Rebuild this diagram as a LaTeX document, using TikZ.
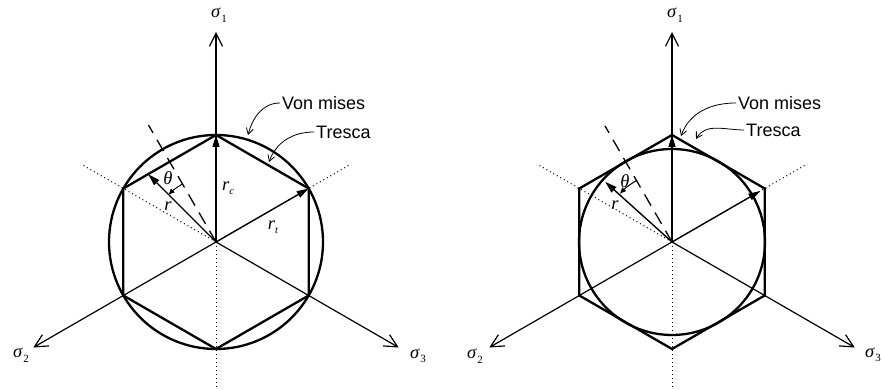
\documentclass[tikz,border=0pt]{standalone}
\usepackage{fontspec}
\setmainfont{Liberation Serif}
\newfontfamily\arialfont{Liberation Sans}
\usetikzlibrary{arrows.meta}
\newcommand\sgmlab[1]{\textit{σ}\kern0.5pt\raisebox{-4.5pt}{\fontsize{11}{11}\selectfont #1}}
\newcommand\rsub[1]{\textit{r}\raisebox{-3.5pt}{\fontsize{10.5}{10.5}\selectfont\textit{#1}}}
\begin{document}
\begin{tikzpicture}[x=1pt,y=1pt,
  axisline/.style={line width=1.2pt,-{Straight Barb[length=13pt,width=13pt,line width=1.2pt]}},
  dotline/.style={line width=1pt,dash pattern=on 1pt off 3pt},
  dashline/.style={line width=1.3pt,dash pattern=on 13pt off 8pt},
  boldline/.style={line width=2.3pt,line join=miter},
  vecline/.style={line width=1.4pt,-{Triangle[length=12pt,width=7pt]}},
  arcline/.style={line width=1pt,-{Triangle[length=6pt,width=5pt]}},
  leader/.style={line width=0.8pt,-{Straight Barb[length=6pt,width=7pt,line width=0.8pt]}},
  lab/.style={inner sep=0pt,font=\fontsize{18.5}{21}\selectfont},
  tag/.style={inner sep=2pt,anchor=west,font=\arialfont\fontsize{18}{21}\selectfont}]
\useasboundingbox (0,0) rectangle (883,390);

% ---------------- left diagram ----------------
\begin{scope}[shift={(216,148)}]
  \coordinate (LO) at (0,0);
  \foreach \a/\n in {90/1,150/2,210/3,270/4,330/5,30/6}
    \coordinate (LV\n) at (\a:107);
  \coordinate (LA1) at (90:210);
  \coordinate (LA2) at (210:211);
  \coordinate (LA3) at (330:211);
  \coordinate (LD1) at (150:156);
  \coordinate (LD2) at (30:156);
  \coordinate (LD3) at (270:145);
  \coordinate (LE) at (120:135);
  \coordinate (LR) at (135:95.9);
  \coordinate (LVMend) at (32,107);
  \coordinate (LTRend) at (53,80);
  \draw[dotline] (LO) -- (LD1);
  \draw[dotline] (LO) -- (LD2);
  \draw[dotline] (LO) -- (LD3);
  \draw[dashline] (LO) -- (LE);
  \draw[axisline] (LO) -- (LA1);
  \draw[axisline] (LO) -- (LA2);
  \draw[axisline] (LO) -- (LA3);
  \draw[boldline] (LV1) -- (LV2) -- (LV3) -- (LV4) -- (LV5) -- (LV6) -- cycle;
  \draw[boldline] (LO) circle[radius=107];
  \draw[vecline] (LO) -- (LV1);
  \draw[vecline] (LO) -- (LV6);
  \draw[vecline] (LO) -- (LR);
  \draw[arcline] (120:67) arc[start angle=120,end angle=135,radius=67];
  \node[lab] (Lth) at (-48,64) {\textit{θ}};
  \node[lab] (Lr) at (-48,36) {\textit{r}};
  \node[lab] (Lrc) at (12,54) {\rsub{c}};
  \node[lab] (Lrt) at (57,15) {\rsub{t}};
\end{scope}
\node[lab] (Ls1) at (219,375) {\sgmlab{1}};
\node[lab] (Ls2) at (21,35) {\sgmlab{2}};
\node[lab] (Ls3) at (418,34) {\sgmlab{3}};
\node[tag] (Lvm) at (280,287) {Von mises};
\node[tag] (Ltr) at (314,258) {Tresca};
\draw[leader] (Lvm.west) to[out=180,in=75] (LVMend);
\draw[leader] (Ltr.west) to[out=180,in=70] (LTRend);

% ---------------- right diagram ----------------
\begin{scope}[shift={(672,148)}]
  \coordinate (RO) at (0,0);
  \foreach \a/\n in {90/1,150/2,210/3,270/4,330/5,30/6}
    \coordinate (RV\n) at (\a:107);
  \coordinate (RA1) at (90:210);
  \coordinate (RA2) at (210:211);
  \coordinate (RA3) at (330:211);
  \coordinate (RD1) at (150:156);
  \coordinate (RD2) at (30:156);
  \coordinate (RD3) at (270:145);
  \coordinate (RE) at (120:134);
  \coordinate (RR) at (138:90);
  \coordinate (RT) at (30:102);
  \coordinate (RVMend) at (9,106);
  \coordinate (RTRend) at (24,103);
  \draw[dotline] (RO) -- (RD1);
  \draw[dotline] (RO) -- (RD2);
  \draw[dotline] (RO) -- (RD3);
  \draw[dashline] (RO) -- (RE);
  \draw[axisline] (RO) -- (RA1);
  \draw[axisline] (RO) -- (RA2);
  \draw[axisline] (RO) -- (RA3);
  \draw[boldline] (RV1) -- (RV2) -- (RV3) -- (RV4) -- (RV5) -- (RV6) -- cycle;
  \draw[boldline] (RO) circle[radius=93];
  \draw[vecline] (RO) -- (RV1);
  \draw[vecline] (RO) -- (RT);
  \draw[vecline] (RO) -- (RR);
  \draw[arcline] (120:71) arc[start angle=120,end angle=137,radius=71];
  \node[lab] (Rth) at (-47,61) {\textit{θ}};
  \node[lab] (Rr) at (-57,37) {\textit{r}};
\end{scope}
\node[lab] (Rs1) at (675,375) {\sgmlab{1}};
\node[lab] (Rs2) at (475,34) {\sgmlab{2}};
\node[lab] (Rs3) at (873,35) {\sgmlab{3}};
\node[tag] (Rvm) at (736,287) {Von mises};
\node[tag] (Rtr) at (744,260) {Tresca};
\draw[leader] (Rvm.west) to[out=180,in=70] (RVMend);
\draw[leader] (Rtr.west) to[out=180,in=60] (RTRend);
\end{tikzpicture}
\end{document}
